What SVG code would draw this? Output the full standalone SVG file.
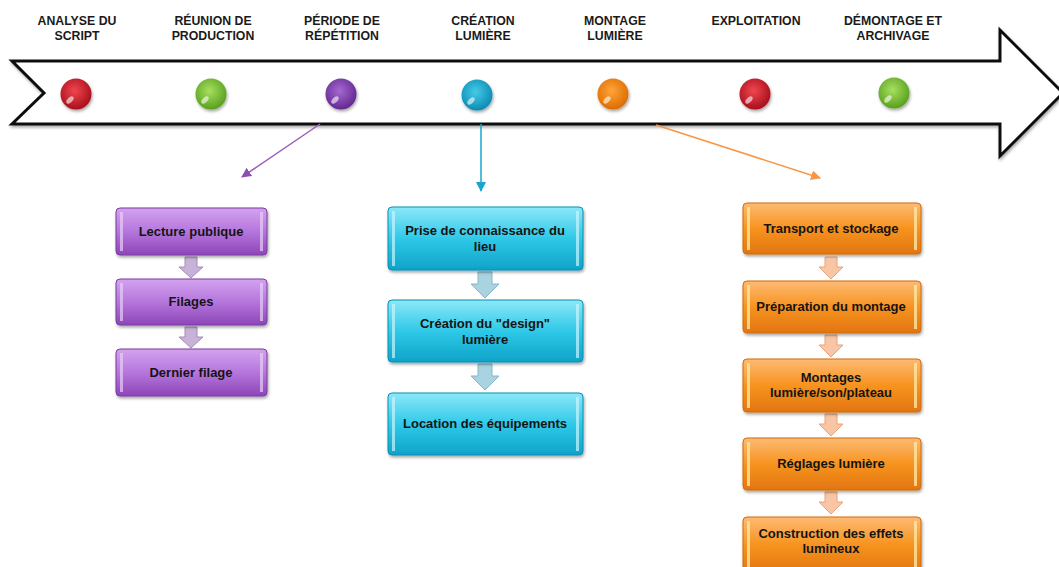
<svg xmlns="http://www.w3.org/2000/svg" width="1059" height="567" viewBox="0 0 1059 567">
<defs>
<style>
.lbl{font-family:"Liberation Sans",Arial,sans-serif;font-weight:bold;font-size:12.3px;fill:#1a1a1a;text-anchor:middle}
.bt{font-family:"Liberation Sans",Arial,sans-serif;font-weight:bold;font-size:13px;fill:#141414;text-anchor:middle}
.shine{fill:#ffffff;opacity:0.6}
</style>
<linearGradient id="gP" x1="0" y1="0" x2="0" y2="1"><stop offset="0" stop-color="#d3a3ef"/><stop offset="0.5" stop-color="#b576dc"/><stop offset="1" stop-color="#8d45b9"/></linearGradient>
<linearGradient id="gC" x1="0" y1="0" x2="0" y2="1"><stop offset="0" stop-color="#8ce8f8"/><stop offset="0.5" stop-color="#2fc9e8"/><stop offset="1" stop-color="#0ea3c8"/></linearGradient>
<linearGradient id="gO" x1="0" y1="0" x2="0" y2="1"><stop offset="0" stop-color="#fdbb74"/><stop offset="0.5" stop-color="#f7931f"/><stop offset="1" stop-color="#e27510"/></linearGradient>
<radialGradient id="bR" cx="0.45" cy="0.4" r="0.6"><stop offset="0" stop-color="#f0464e"/><stop offset="1" stop-color="#a80f1c"/></radialGradient>
<radialGradient id="bG" cx="0.45" cy="0.4" r="0.6"><stop offset="0" stop-color="#a8e060"/><stop offset="1" stop-color="#58a01e"/></radialGradient>
<radialGradient id="bV" cx="0.45" cy="0.4" r="0.6"><stop offset="0" stop-color="#a56ad2"/><stop offset="1" stop-color="#64288f"/></radialGradient>
<radialGradient id="bB" cx="0.45" cy="0.4" r="0.6"><stop offset="0" stop-color="#45cbe8"/><stop offset="1" stop-color="#0c8bb2"/></radialGradient>
<radialGradient id="bO" cx="0.45" cy="0.4" r="0.6"><stop offset="0" stop-color="#ffa53a"/><stop offset="1" stop-color="#dc6c00"/></radialGradient>
<filter id="sh" x="-10%" y="-10%" width="130%" height="140%"><feDropShadow dx="1" dy="2" stdDeviation="1.5" flood-color="#000" flood-opacity="0.35"/></filter>
<marker id="mP" viewBox="0 0 10 10" refX="9" refY="5" markerWidth="10" markerHeight="10" markerUnits="userSpaceOnUse" orient="auto"><path d="M0,0 L10,5 L0,10 z" fill="#8e4fb0"/></marker>
<marker id="mC" viewBox="0 0 10 10" refX="9" refY="5" markerWidth="10" markerHeight="10" markerUnits="userSpaceOnUse" orient="auto"><path d="M0,0 L10,5 L0,10 z" fill="#1aa6cc"/></marker>
<marker id="mO" viewBox="0 0 10 10" refX="9" refY="5" markerWidth="10" markerHeight="10" markerUnits="userSpaceOnUse" orient="auto"><path d="M0,0 L10,5 L0,10 z" fill="#f79646"/></marker>
</defs>
<rect width="1059" height="567" fill="#ffffff"/>

<g id="timeline">
<polygon points="12,61 1000,61 1000,30 1063,93 1000,156 1000,124 12,124 44,93" fill="#ffffff" stroke="#111" stroke-width="3" stroke-linejoin="miter" filter="url(#sh)"/>
</g>

<g id="stage-analyse">
<text class="lbl" x="77" y="25">ANALYSE DU</text><text class="lbl" x="77" y="40">SCRIPT</text>
<circle cx="76" cy="94" r="15.5" fill="url(#bR)" filter="url(#sh)"/><ellipse class="shine" cx="70" cy="100" rx="4.5" ry="2.5" transform="rotate(-45 70 100)"/>
</g>
<g id="stage-reunion">
<text class="lbl" x="213" y="25">RÉUNION DE</text><text class="lbl" x="213" y="40">PRODUCTION</text>
<circle cx="211" cy="94" r="15.5" fill="url(#bG)" filter="url(#sh)"/><ellipse class="shine" cx="205" cy="100" rx="4.5" ry="2.5" transform="rotate(-45 205 100)"/>
</g>
<g id="stage-periode">
<text class="lbl" x="342" y="25">PÉRIODE DE</text><text class="lbl" x="342" y="40">RÉPÉTITION</text>
<circle cx="341" cy="94" r="15.5" fill="url(#bV)" filter="url(#sh)"/><ellipse class="shine" cx="335" cy="100" rx="4.5" ry="2.5" transform="rotate(-45 335 100)"/>
</g>
<g id="stage-creation">
<text class="lbl" x="483" y="25">CRÉATION</text><text class="lbl" x="483" y="40">LUMIÈRE</text>
<circle cx="477" cy="95" r="15.5" fill="url(#bB)" filter="url(#sh)"/><ellipse class="shine" cx="471" cy="101" rx="4.5" ry="2.5" transform="rotate(-45 471 101)"/>
</g>
<g id="stage-montage">
<text class="lbl" x="615" y="25">MONTAGE</text><text class="lbl" x="615" y="40">LUMIÈRE</text>
<circle cx="613" cy="94" r="15.5" fill="url(#bO)" filter="url(#sh)"/><ellipse class="shine" cx="607" cy="100" rx="4.5" ry="2.5" transform="rotate(-45 607 100)"/>
</g>
<g id="stage-exploitation">
<text class="lbl" x="756" y="25">EXPLOITATION</text>
<circle cx="755" cy="94" r="15.5" fill="url(#bR)" filter="url(#sh)"/><ellipse class="shine" cx="749" cy="100" rx="4.5" ry="2.5" transform="rotate(-45 749 100)"/>
</g>
<g id="stage-demontage">
<text class="lbl" x="893" y="25">DÉMONTAGE ET</text><text class="lbl" x="893" y="40">ARCHIVAGE</text>
<circle cx="894" cy="93" r="15.5" fill="url(#bG)" filter="url(#sh)"/><ellipse class="shine" cx="888" cy="99" rx="4.5" ry="2.5" transform="rotate(-45 888 99)"/>
</g>

<g id="connectors" fill="none" stroke-width="1.5">
<line x1="320" y1="124" x2="242" y2="177" stroke="#9a60b8" marker-end="url(#mP)"/>
<line x1="481" y1="124" x2="481" y2="191" stroke="#1aa6cc" marker-end="url(#mC)"/>
<line x1="656" y1="125" x2="820" y2="178" stroke="#f79646" marker-end="url(#mO)"/>
</g>

<g id="flow-arrows" stroke-width="1">
<path d="M185,257 h12 v10 h6 l-12,11 l-12,-11 h6 z" fill="#c8b2d8" stroke="#a58bb8"/>
<path d="M185,327 h12 v10 h6 l-12,11 l-12,-11 h6 z" fill="#c8b2d8" stroke="#a58bb8"/>
<path d="M478,272 h14 v12 h7 l-14,14 l-14,-14 h7 z" fill="#a9d3e0" stroke="#86b6c6"/>
<path d="M478,364 h14 v12 h7 l-14,14 l-14,-14 h7 z" fill="#a9d3e0" stroke="#86b6c6"/>
<path d="M825,257 h12 v10 h6 l-12,12 l-12,-12 h6 z" fill="#f8c6a4" stroke="#e9a27a"/>
<path d="M825,335 h12 v10 h6 l-12,12 l-12,-12 h6 z" fill="#f8c6a4" stroke="#e9a27a"/>
<path d="M825,414 h12 v10 h6 l-12,12 l-12,-12 h6 z" fill="#f8c6a4" stroke="#e9a27a"/>
<path d="M825,492 h12 v10 h6 l-12,12 l-12,-12 h6 z" fill="#f8c6a4" stroke="#e9a27a"/>
</g>

<g id="p1"><rect x="116" y="208" width="151" height="47" rx="4" fill="url(#gP)" stroke="#7a3aa0" stroke-width="1" filter="url(#sh)"/><rect x="120" y="212" width="3" height="39" fill="#e8cdf7" opacity="0.7"/><rect x="260" y="212" width="3" height="39" fill="#e8cdf7" opacity="0.7"/><text class="bt" x="191" y="236">Lecture publique</text></g>
<g id="p2"><rect x="116" y="279" width="151" height="46" rx="4" fill="url(#gP)" stroke="#7a3aa0" stroke-width="1" filter="url(#sh)"/><rect x="120" y="283" width="3" height="38" fill="#e8cdf7" opacity="0.7"/><rect x="260" y="283" width="3" height="38" fill="#e8cdf7" opacity="0.7"/><text class="bt" x="191" y="306">Filages</text></g>
<g id="p3"><rect x="116" y="349" width="151" height="47" rx="4" fill="url(#gP)" stroke="#7a3aa0" stroke-width="1" filter="url(#sh)"/><rect x="120" y="353" width="3" height="39" fill="#e8cdf7" opacity="0.7"/><rect x="260" y="353" width="3" height="39" fill="#e8cdf7" opacity="0.7"/><text class="bt" x="191" y="377">Dernier filage</text></g>

<g id="c1"><rect x="388" y="207" width="195" height="63" rx="4" fill="url(#gC)" stroke="#0b8fb3" stroke-width="1" filter="url(#sh)"/><rect x="392" y="211" width="3" height="55" fill="#c9f4fc" opacity="0.7"/><rect x="576" y="211" width="3" height="55" fill="#c9f4fc" opacity="0.7"/><text class="bt" x="485" y="235">Prise de connaissance du</text><text class="bt" x="485" y="251">lieu</text></g>
<g id="c2"><rect x="388" y="300" width="195" height="62" rx="4" fill="url(#gC)" stroke="#0b8fb3" stroke-width="1" filter="url(#sh)"/><rect x="392" y="304" width="3" height="54" fill="#c9f4fc" opacity="0.7"/><rect x="576" y="304" width="3" height="54" fill="#c9f4fc" opacity="0.7"/><text class="bt" x="485" y="328">Création du "design"</text><text class="bt" x="485" y="344">lumière</text></g>
<g id="c3"><rect x="388" y="393" width="195" height="62" rx="4" fill="url(#gC)" stroke="#0b8fb3" stroke-width="1" filter="url(#sh)"/><rect x="392" y="397" width="3" height="54" fill="#c9f4fc" opacity="0.7"/><rect x="576" y="397" width="3" height="54" fill="#c9f4fc" opacity="0.7"/><text class="bt" x="485" y="428">Location des équipements</text></g>

<g id="o1"><rect x="743" y="203" width="178" height="51" rx="4" fill="url(#gO)" stroke="#d06a0c" stroke-width="1" filter="url(#sh)"/><rect x="747" y="207" width="3" height="43" fill="#fde7a0" opacity="0.8"/><rect x="914" y="207" width="3" height="43" fill="#fde7a0" opacity="0.8"/><text class="bt" x="831" y="233">Transport et stockage</text></g>
<g id="o2"><rect x="743" y="281" width="178" height="52" rx="4" fill="url(#gO)" stroke="#d06a0c" stroke-width="1" filter="url(#sh)"/><rect x="747" y="285" width="3" height="44" fill="#fde7a0" opacity="0.8"/><rect x="914" y="285" width="3" height="44" fill="#fde7a0" opacity="0.8"/><text class="bt" x="831" y="311">Préparation du montage</text></g>
<g id="o3"><rect x="743" y="359" width="178" height="53" rx="4" fill="url(#gO)" stroke="#d06a0c" stroke-width="1" filter="url(#sh)"/><rect x="747" y="363" width="3" height="45" fill="#fde7a0" opacity="0.8"/><rect x="914" y="363" width="3" height="45" fill="#fde7a0" opacity="0.8"/><text class="bt" x="831" y="382">Montages</text><text class="bt" x="831" y="397">lumière/son/plateau</text></g>
<g id="o4"><rect x="743" y="438" width="178" height="52" rx="4" fill="url(#gO)" stroke="#d06a0c" stroke-width="1" filter="url(#sh)"/><rect x="747" y="442" width="3" height="44" fill="#fde7a0" opacity="0.8"/><rect x="914" y="442" width="3" height="44" fill="#fde7a0" opacity="0.8"/><text class="bt" x="831" y="468">Réglages lumière</text></g>
<g id="o5"><rect x="743" y="517" width="178" height="56" rx="4" fill="url(#gO)" stroke="#d06a0c" stroke-width="1" filter="url(#sh)"/><rect x="747" y="521" width="3" height="48" fill="#fde7a0" opacity="0.8"/><rect x="914" y="521" width="3" height="48" fill="#fde7a0" opacity="0.8"/><text class="bt" x="831" y="538">Construction des effets</text><text class="bt" x="831" y="553">lumineux</text></g>
</svg>
